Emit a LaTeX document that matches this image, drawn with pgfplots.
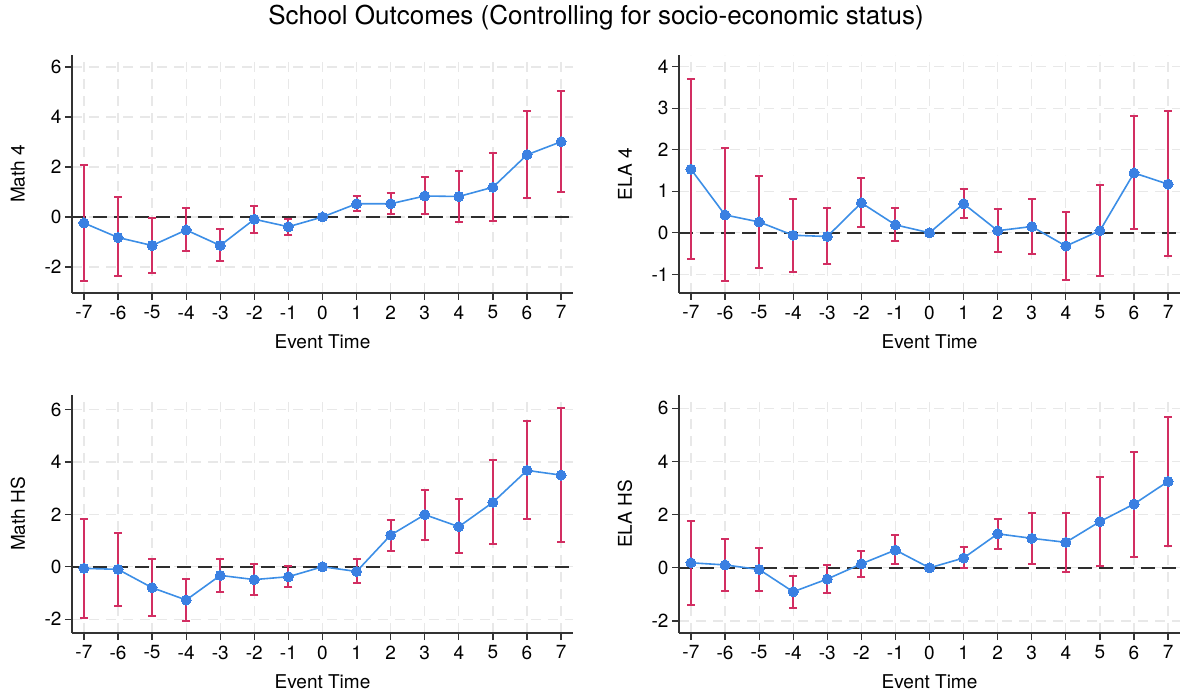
\documentclass[border=0pt]{standalone}
\usepackage{fontspec}
\setmainfont{TeX Gyre Heros}
\usepackage{pgfplots}
\usepackage{pgfplotstable}
\pgfplotsset{compat=1.18}

\definecolor{lineblue}{HTML}{3C8EE6}
\definecolor{markblue}{HTML}{3A80E2}
\definecolor{ebred}{HTML}{D22E62}
\definecolor{gridgray}{HTML}{E8E8E8}
\definecolor{axisgray}{HTML}{333333}
\definecolor{zerogray}{HTML}{2E2E2E}

\pgfplotstableread{
x y lo hi
-7 -0.24 -2.55 2.06
-6 -0.82 -2.38 0.78
-5 -1.14 -2.23 -0.03
-4 -0.52 -1.36 0.35
-3 -1.14 -1.76 -0.49
-2 -0.09 -0.63 0.45
-1 -0.39 -0.71 -0.08
0 0 0 0
1 0.53 0.25 0.82
2 0.53 0.12 0.96
3 0.84 0.11 1.59
4 0.82 -0.19 1.82
5 1.19 -0.17 2.54
6 2.49 0.75 4.25
7 3.01 1.00 5.02
}\mathfour

\pgfplotstableread{
x y lo hi
-7 1.53 -0.64 3.70
-6 0.43 -1.16 2.03
-5 0.26 -0.85 1.36
-4 -0.06 -0.94 0.81
-3 -0.09 -0.76 0.60
-2 0.72 0.15 1.31
-1 0.19 -0.21 0.59
0 0 0 0
1 0.70 0.35 1.06
2 0.05 -0.47 0.57
3 0.15 -0.51 0.81
4 -0.32 -1.14 0.49
5 0.05 -1.04 1.15
6 1.44 0.09 2.80
7 1.17 -0.56 2.92
}\elafour

\pgfplotstableread{
x y lo hi
-7 -0.06 -1.97 1.84
-6 -0.10 -1.48 1.28
-5 -0.80 -1.88 0.29
-4 -1.27 -2.06 -0.46
-3 -0.33 -0.95 0.30
-2 -0.49 -1.07 0.09
-1 -0.38 -0.79 0.04
0 0 0 0
1 -0.18 -0.62 0.28
2 1.21 0.61 1.80
3 1.99 1.04 2.93
4 1.53 0.53 2.58
5 2.46 0.86 4.07
6 3.68 1.81 5.57
7 3.50 0.93 6.08
}\mathhs

\pgfplotstableread{
x y lo hi
-7 0.19 -1.39 1.76
-6 0.11 -0.88 1.08
-5 -0.06 -0.87 0.73
-4 -0.90 -1.52 -0.29
-3 -0.42 -0.96 0.10
-2 0.15 -0.35 0.62
-1 0.67 0.14 1.23
0 0 0 0
1 0.37 -0.02 0.78
2 1.28 0.71 1.84
3 1.11 0.15 2.08
4 0.96 -0.14 2.05
5 1.74 0.07 3.42
6 2.40 0.41 4.37
7 3.25 0.81 5.69
}\elahs

\pgfplotsset{
  panel/.style={
    anchor=south west,
    scale only axis,
    width=501pt, height=238pt,
    xmin=-7.35, xmax=7.35,
    xtick={-7,...,7},
    axis x line*=bottom, axis y line*=left,
    axis line style={line width=1.2pt, color=axisgray, -},
    tick style={line width=1.2pt, color=axisgray},
    tick align=outside,
    major tick length=7pt,
    grid=major,
    major grid style={dash pattern=on 10pt off 7pt, color=gridgray, line width=1.2pt},
    /pgf/number format/assume math mode=true,
    tick label style={font=\fontsize{19}{19}\selectfont},
    label style={font=\fontsize{19}{19}\selectfont},
    xlabel={Event Time},
    x label style={at={(axis description cs:0.5,0)}, anchor=center, yshift=-49pt},
    y label style={at={(axis description cs:-0.108,0.5)}, anchor=center, rotate=0},
    xticklabel style={yshift=-2pt},
    clip=false,
  },
  ebars/.style={draw=none, mark=none, forget plot,
    x filter/.expression={x==0 ? nan : x},
    error bars/.cd, y dir=both, y explicit,
    error bar style={line width=2pt, color=ebred},
    error mark options={rotate=90, line width=2pt, color=ebred, mark size=4pt}},
  series/.style={color=lineblue, line width=1.6pt, mark=*, mark size=5pt,
    mark options={fill=markblue, draw=markblue, line width=0pt}},
}

\newcommand{\zeroline}{\draw[color=zerogray, line width=1.6pt, dash pattern=on 14pt off 7pt]
  ({rel axis cs:0,0} |- {axis cs:0,0}) -- ({rel axis cs:1,0} |- {axis cs:0,0});}

\begin{document}
\begin{tikzpicture}
\useasboundingbox (0,0) rectangle (1180pt,696pt);

\node[font=\fontsize{26}{26}\selectfont] at (596pt,678pt) {School Outcomes (Controlling for socio-economic status)};

% Math 4
\begin{axis}[panel, at={(72pt,403pt)}, ymin=-3.04, ymax=6.48, ytick={-2,0,2,4,6}, ylabel={Math 4}]
\zeroline
\addplot[ebars] table[x=x, y=y, y error plus expr=\thisrow{hi}-\thisrow{y}, y error minus expr=\thisrow{y}-\thisrow{lo}] {\mathfour};
\addplot[series] table[x=x, y=y] {\mathfour};
\end{axis}

% ELA 4
\begin{axis}[panel, at={(679pt,403pt)}, ymin=-1.45, ymax=4.28, ytick={-1,0,1,2,3,4}, ylabel={ELA 4}]
\zeroline
\addplot[ebars] table[x=x, y=y, y error plus expr=\thisrow{hi}-\thisrow{y}, y error minus expr=\thisrow{y}-\thisrow{lo}] {\elafour};
\addplot[series] table[x=x, y=y] {\elafour};
\end{axis}

% Math HS
\begin{axis}[panel, at={(72pt,63pt)}, ymin=-2.53, ymax=6.56, ytick={-2,0,2,4,6}, ylabel={Math HS}]
\zeroline
\addplot[ebars] table[x=x, y=y, y error plus expr=\thisrow{hi}-\thisrow{y}, y error minus expr=\thisrow{y}-\thisrow{lo}] {\mathhs};
\addplot[series] table[x=x, y=y] {\mathhs};
\end{axis}

% ELA HS
\begin{axis}[panel, at={(679pt,63pt)}, ymin=-2.45, ymax=6.5, ytick={-2,0,2,4,6}, ylabel={ELA HS}]
\zeroline
\addplot[ebars] table[x=x, y=y, y error plus expr=\thisrow{hi}-\thisrow{y}, y error minus expr=\thisrow{y}-\thisrow{lo}] {\elahs};
\addplot[series] table[x=x, y=y] {\elahs};
\end{axis}
\end{tikzpicture}
\end{document}
